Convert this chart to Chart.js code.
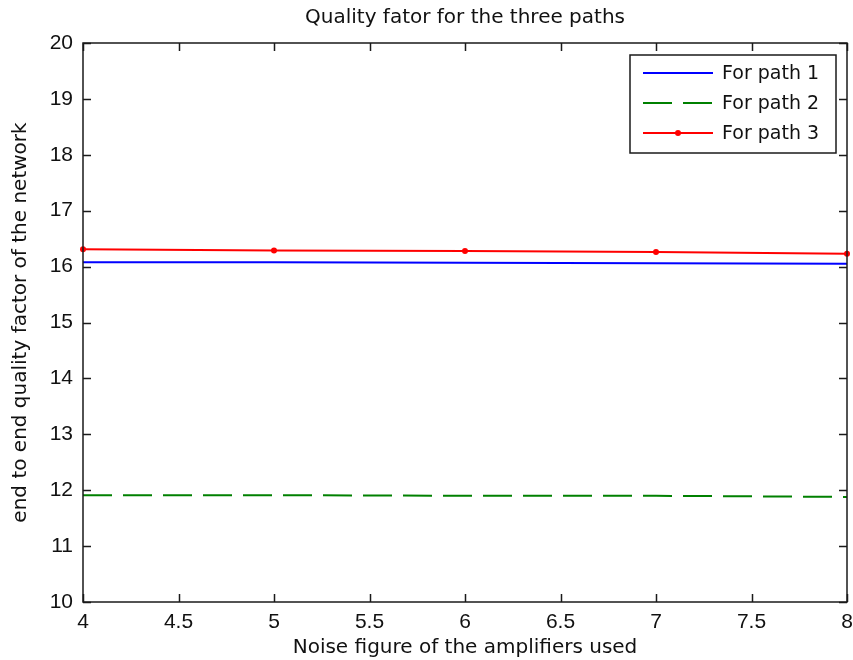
<!DOCTYPE html>
<html>
<head>
<meta charset="utf-8">
<script src="https://cdn.jsdelivr.net/npm/chart.js@4.4.0/dist/chart.umd.min.js"></script>
<style>
  html, body { margin: 0; padding: 0; background: #fff; }
  #wrap { width: 853px; height: 660px; }
</style>
</head>
<body>
<div id="wrap"><canvas id="c" width="853" height="660"></canvas></div>
<script>
// noise figure (x) and the quality factor of each path
const noiseFig = [4, 5, 6, 7, 8];
const path1 = [16.08, 16.08, 16.07, 16.06, 16.05];
const path2 = [11.91, 11.91, 11.90, 11.90, 11.88];
const path3 = [16.31, 16.29, 16.28, 16.26, 16.23];
const seriesLabels = ['For path 1', 'For path 2', 'For path 3'];
const xTicks = [4, 4.5, 5, 5.5, 6, 6.5, 7, 7.5, 8];
const yTicks = [10, 11, 12, 13, 14, 15, 16, 17, 18, 19, 20];

const FONT = '"Liberation Sans", Arial, Helvetica, sans-serif';
const WIDE = '"DejaVu Sans", Verdana, sans-serif';
const AXIS = '#1a1a1a';

function pts(ys) {
    return noiseFig.map((x, i) => ({ x: x, y: ys[i] }));
}

// inward ticks on all four sides plus the box round the axes
const frame = {
    id: 'frame',
    afterDatasetsDraw(chart) {
        const { ctx, chartArea: a } = chart;
        const xs = chart.scales.x, ys = chart.scales.y;
        const len = 8;
        ctx.save();
        ctx.strokeStyle = AXIS;
        ctx.lineWidth = 1.5;
        ctx.beginPath();
        xTicks.forEach(v => {
            const px = Math.round(xs.getPixelForValue(v)) + 0.5;
            ctx.moveTo(px, a.bottom); ctx.lineTo(px, a.bottom - len);
            ctx.moveTo(px, a.top); ctx.lineTo(px, a.top + len);
        });
        yTicks.forEach(v => {
            const py = Math.round(ys.getPixelForValue(v)) + 0.5;
            ctx.moveTo(a.left, py); ctx.lineTo(a.left + len, py);
            ctx.moveTo(a.right, py); ctx.lineTo(a.right - len, py);
        });
        ctx.stroke();
        ctx.strokeRect(a.left, a.top, a.right - a.left, a.bottom - a.top);
        ctx.restore();
    }
};

// matlab style legend inside the axes, top right
const boxLegend = {
    id: 'boxLegend',
    afterDraw(chart) {
        const { ctx, chartArea: a } = chart;
        const w = 206, h = 98;
        const x0 = a.right - 11 - w, y0 = a.top + 12;
        ctx.save();
        ctx.fillStyle = '#fff';
        ctx.fillRect(x0, y0, w, h);
        ctx.strokeStyle = AXIS;
        ctx.lineWidth = 1.5;
        ctx.strokeRect(x0, y0, w, h);
        ctx.font = '19px ' + WIDE;
        ctx.textBaseline = 'middle';
        chart.data.datasets.forEach((ds, i) => {
            const yy = y0 + 18 + i * 30;
            ctx.strokeStyle = ds.borderColor;
            ctx.lineWidth = ds.borderWidth;
            ctx.setLineDash(ds.borderDash || []);
            ctx.beginPath();
            ctx.moveTo(x0 + 13, yy);
            ctx.lineTo(x0 + 83, yy);
            ctx.stroke();
            ctx.setLineDash([]);
            if (ds.pointRadius > 0) {
                ctx.fillStyle = ds.pointBackgroundColor;
                ctx.beginPath();
                ctx.arc(x0 + 48, yy, ds.pointRadius, 0, Math.PI * 2);
                ctx.fill();
            }
            ctx.fillStyle = '#111';
            ctx.fillText(ds.label, x0 + 92, yy + 1);
        });
        ctx.restore();
    }
};

const topTitle = {
    id: 'topTitle',
    afterDraw(chart) {
        const { ctx, chartArea: a } = chart;
        ctx.save();
        ctx.font = '20px ' + WIDE;
        ctx.fillStyle = '#111';
        ctx.textAlign = 'center';
        ctx.textBaseline = 'middle';
        ctx.fillText('Quality fator for the three paths', (a.left + a.right) / 2, 18);
        ctx.restore();
    }
};

const data = {
    datasets: [{
        label: seriesLabels[0],
        data: pts(path1),
        borderColor: '#0000ff',
        borderWidth: 2,
        pointRadius: 0,
        fill: false
    }, {
        label: seriesLabels[1],
        data: pts(path2),
        borderColor: '#008000',
        borderWidth: 2,
        borderDash: [29, 11],
        pointRadius: 0,
        fill: false
    }, {
        label: seriesLabels[2],
        data: pts(path3),
        borderColor: '#ff0000',
        borderWidth: 2,
        pointRadius: 3,
        pointBackgroundColor: '#ff0000',
        pointBorderColor: '#ff0000',
        pointBorderWidth: 0,
        fill: false
    }]
};

const config = {
    type: 'line',
    data: data,
    options: {
        responsive: false,
        animation: false,
        clip: false,
        layout: { padding: { top: 43, right: 6, left: 0, bottom: 0 } },
        plugins: {
            legend: { display: false },
            title: { display: false },
            tooltip: { enabled: false }
        },
        scales: {
            x: {
                type: 'linear',
                min: 4,
                max: 8,
                afterBuildTicks: s => { s.ticks = xTicks.map(v => ({ value: v })); },
                afterFit: s => { s.height = 58; s.paddingLeft = 0; s.paddingRight = 0; },
                grid: { display: false, drawTicks: false },
                border: { display: false },
                ticks: {
                    padding: 8,
                    color: '#111',
                    font: { family: FONT, size: 21 },
                    maxRotation: 0,
                    autoSkip: false,
                    callback: v => String(v)
                },
                title: {
                    display: true,
                    text: 'Noise figure of the amplifiers used',
                    color: '#111',
                    font: { family: WIDE, size: 20 },
                    padding: { top: 0, bottom: 0 }
                }
            },
            y: {
                min: 10,
                max: 20,
                afterBuildTicks: s => { s.ticks = yTicks.map(v => ({ value: v })); },
                afterFit: s => { s.width = 83; s.paddingTop = 0; s.paddingBottom = 0; },
                grid: { display: false, drawTicks: false },
                border: { display: false },
                ticks: {
                    padding: 10,
                    color: '#111',
                    font: { family: FONT, size: 21 },
                    autoSkip: false,
                    callback: v => String(v)
                },
                title: {
                    display: true,
                    text: 'end to end quality factor of the network',
                    color: '#111',
                    font: { family: WIDE, size: 20 },
                    padding: { top: 9, bottom: 0 }
                }
            }
        }
    },
    plugins: [frame, boxLegend, topTitle]
};

new Chart(document.getElementById('c').getContext('2d'), config);
</script>
</body>
</html>
